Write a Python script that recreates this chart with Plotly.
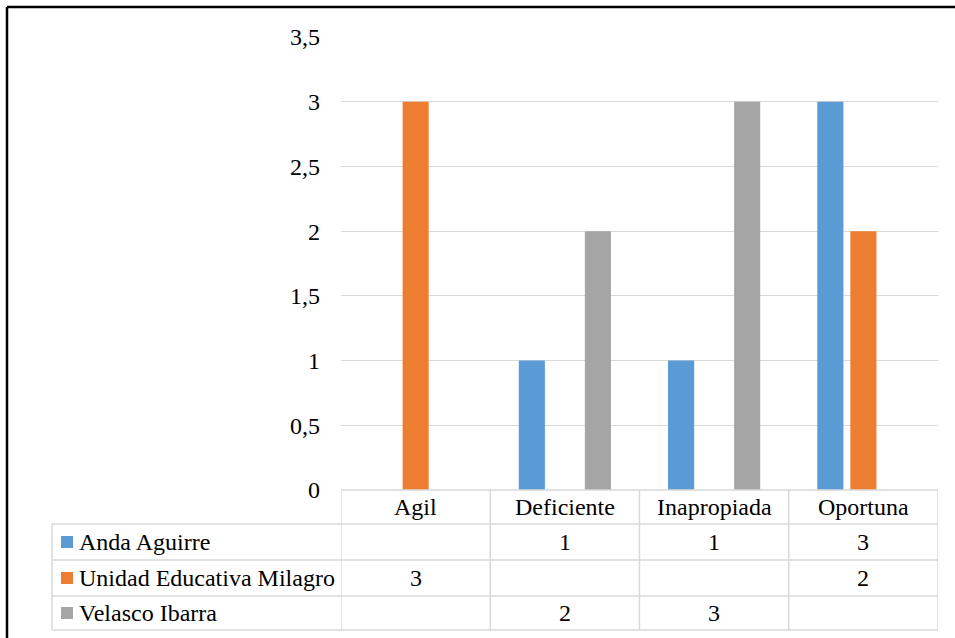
import plotly.graph_objects as go

# Data
categories = ["Agil", "Deficiente", "Inapropiada", "Oportuna"]
series_names = ["Anda Aguirre", "Unidad Educativa Milagro", "Velasco Ibarra"]
anda_aguirre = [None, 1, 1, 3]
unidad_educativa_milagro = [3, None, None, 2]
velasco_ibarra = [None, 2, 3, None]
series_values = [anda_aguirre, unidad_educativa_milagro, velasco_ibarra]
colors = ["#5B9BD5", "#ED7D31", "#A5A5A5"]

W, H = 955, 638
FONT = "Liberation Serif, Times New Roman, serif"
FS = 24
GRID = "#d9d9d9"


def px(x):
    return x / W


def py(y):
    return 1 - y / H


fig = go.Figure()
for name, vals, col in zip(series_names, series_values, colors):
    fig.add_trace(go.Bar(x=categories, y=vals, name=name, marker_color=col,
                         marker_line_width=0))

# Layout of the plot area and the data table beneath it
plot_left, plot_right = 341, 938
plot_top, plot_bottom = 37, 490
table_left = 52
row_lines = [490, 524, 560, 596, 630]

shapes = []
# outer frame (top and left edges)
shapes.append(dict(type="line", xref="paper", yref="paper", x0=px(7), x1=1,
                   y0=py(7), y1=py(7), line=dict(color="black", width=2.5)))
shapes.append(dict(type="line", xref="paper", yref="paper", x0=px(7), x1=px(7),
                   y0=py(7), y1=0, line=dict(color="black", width=2.5)))

# horizontal table lines
for i, yl in enumerate(row_lines):
    x0 = plot_left if i == 0 else table_left
    shapes.append(dict(type="line", xref="paper", yref="paper", x0=px(x0), x1=px(plot_right),
                       y0=py(yl), y1=py(yl), line=dict(color=GRID, width=1.5)))
# vertical table lines at category boundaries
for k in range(len(categories) + 1):
    shapes.append(dict(type="line", xref="x", yref="paper", x0=k - 0.5, x1=k - 0.5,
                       y0=py(row_lines[0]), y1=py(row_lines[-1]),
                       line=dict(color=GRID, width=1.5)))
shapes.append(dict(type="line", xref="paper", yref="paper", x0=px(table_left), x1=px(table_left),
                   y0=py(row_lines[1]), y1=py(row_lines[-1]), line=dict(color=GRID, width=1.5)))

annotations = []
# category header row
hdr_y = (row_lines[0] + row_lines[1]) / 2
for c in categories:
    annotations.append(dict(x=c, xref="x", y=py(hdr_y), yref="paper", text=c, showarrow=False,
                            font=dict(family=FONT, size=FS, color="black"),
                            xanchor="center", yanchor="middle"))
# series rows: legend key, name and values
for r, (name, vals, col) in enumerate(zip(series_names, series_values, colors)):
    yc = (row_lines[r + 1] + row_lines[r + 2]) / 2
    shapes.append(dict(type="rect", xref="paper", yref="paper", x0=px(61), x1=px(73),
                       y0=py(yc + 6), y1=py(yc - 6), fillcolor=col, line=dict(width=0)))
    annotations.append(dict(x=px(77), xref="paper", y=py(yc), yref="paper", text=name,
                            showarrow=False, xanchor="left", yanchor="middle",
                            font=dict(family=FONT, size=FS, color="black")))
    for c, v in zip(categories, vals):
        if v is None:
            continue
        annotations.append(dict(x=c, xref="x", y=py(yc), yref="paper", text=f"{v:g}",
                                showarrow=False, xanchor="center", yanchor="middle",
                                font=dict(family=FONT, size=FS, color="black")))

fig.update_layout(
    width=W, height=H,
    margin=dict(l=0, r=0, t=0, b=0, pad=0),
    paper_bgcolor="white", plot_bgcolor="white",
    barmode="group", bargap=0.336, bargroupgap=0.21,
    showlegend=False,
    separators=",.",
    font=dict(family=FONT, size=FS, color="black"),
    xaxis=dict(domain=[px(plot_left), px(plot_right)], range=[-0.5, 3.5],
               showticklabels=False, showgrid=False, zeroline=False, showline=False,
               automargin=False),
    yaxis=dict(domain=[py(plot_bottom), py(plot_top)], range=[0, 3.5], dtick=0.5,
               showgrid=True, gridcolor=GRID, gridwidth=1.3, zeroline=False,
               showline=False, ticks="", ticklabelstandoff=20, automargin=False,
               tickfont=dict(family=FONT, size=FS, color="black")),
    shapes=shapes,
    annotations=annotations,
)

fig.write_html("out.html")
